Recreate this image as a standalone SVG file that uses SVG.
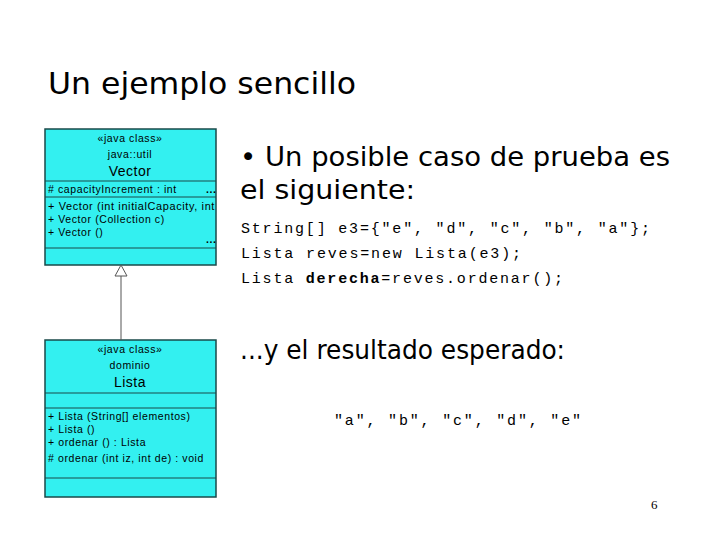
<svg xmlns="http://www.w3.org/2000/svg" width="720" height="540" viewBox="0 0 720 540">
<style>
.box{fill:#33f0f0;stroke:#1a4a4a;stroke-width:1.5}
.ln{stroke:#1a4a4a;stroke-width:1.2}
.u{font-family:"Liberation Sans",Arial,sans-serif;font-size:10.5px;fill:#000;letter-spacing:0.6px}
.uc{font-family:"Liberation Sans",Arial,sans-serif;font-size:10.5px;fill:#000;text-anchor:middle;letter-spacing:0.6px}
.un{font-family:"Liberation Sans",Arial,sans-serif;font-size:14px;fill:#000;text-anchor:middle;letter-spacing:0.5px}
.t{font-family:"DejaVu Sans",Verdana,sans-serif;fill:#000}
.m{font-family:"Liberation Mono","Courier New",monospace;font-size:15px;fill:#000}
</style>
<rect width="720" height="540" fill="#fff"/>
<text class="t" x="48" y="94" font-size="31" textLength="308" lengthAdjust="spacingAndGlyphs">Un ejemplo sencillo</text>
<g id="vector">
<rect class="box" x="45" y="129" width="171" height="136"/>
<line class="ln" x1="45" y1="181" x2="216" y2="181"/>
<line class="ln" x1="45" y1="197" x2="216" y2="197"/>
<line class="ln" x1="45" y1="248" x2="216" y2="248"/>
<text class="uc" x="130" y="142">«java class»</text>
<text class="uc" x="130" y="158">java::util</text>
<text class="un" x="130" y="176">Vector</text>
<text class="u" x="48" y="193">#  capacityIncrement  : int</text>
<text class="u" x="206" y="193" font-weight="bold">...</text>
<text class="u" x="48" y="210" textLength="167" lengthAdjust="spacingAndGlyphs">+ Vector (int initialCapacity, int</text>
<text class="u" x="48" y="223">+ Vector (Collection c)</text>
<text class="u" x="48" y="236">+ Vector ()</text>
<text class="u" x="206" y="243" font-weight="bold">...</text>
</g>
<g id="lista">
<rect class="box" x="45" y="340" width="171" height="157"/>
<line class="ln" x1="45" y1="393" x2="216" y2="393"/>
<line class="ln" x1="45" y1="408" x2="216" y2="408"/>
<line class="ln" x1="45" y1="478" x2="216" y2="478"/>
<text class="uc" x="130" y="353">«java class»</text>
<text class="uc" x="130" y="369">dominio</text>
<text class="un" x="130" y="387">Lista</text>
<text class="u" x="48" y="420">+ Lista (String[] elementos)</text>
<text class="u" x="48" y="433">+ Lista ()</text>
<text class="u" x="48" y="446">+ ordenar () : Lista</text>
<text class="u" x="48" y="462" textLength="156" lengthAdjust="spacingAndGlyphs">#  ordenar (int iz, int de) : void</text>
</g>
<g id="connectors">
<line x1="121" y1="276" x2="121" y2="340" stroke="#555" stroke-width="1"/>
<polygon points="121,265 115,276 127,276" fill="#fff" stroke="#555" stroke-width="1"/>
</g>
<text class="t" x="240" y="166" font-size="26" textLength="430" lengthAdjust="spacingAndGlyphs">• Un posible caso de prueba es</text>
<text class="t" x="240" y="199" font-size="26" textLength="175" lengthAdjust="spacingAndGlyphs">el siguiente:</text>
<text class="m" x="241" y="233" textLength="409" lengthAdjust="spacing">String[] e3={"e", "d", "c", "b", "a"};</text>
<text class="m" x="241" y="258" textLength="280" lengthAdjust="spacing">Lista reves=new Lista(e3);</text>
<text class="m" x="241" y="283" textLength="322" lengthAdjust="spacing">Lista <tspan font-weight="bold">derecha</tspan>=reves.ordenar();</text>
<text class="t" x="240" y="359" font-size="26" textLength="325" lengthAdjust="spacingAndGlyphs">...y el resultado esperado:</text>
<text class="m" x="334" y="425" textLength="247" lengthAdjust="spacing">"a", "b", "c", "d", "e"</text>
<text x="651" y="509" font-size="13" font-family="Liberation Serif,serif">6</text>
</svg>
